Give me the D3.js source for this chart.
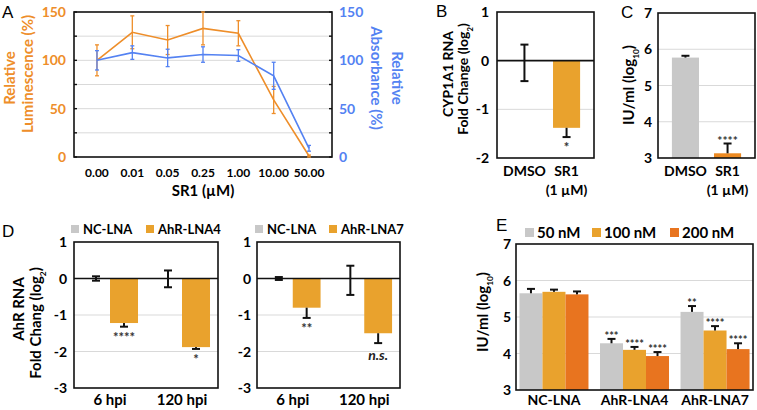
<!DOCTYPE html>
<html><head><meta charset="utf-8">
<script src="https://cdn.jsdelivr.net/npm/d3@7"></script>
<style>
body{margin:0;background:#fff;}
svg{display:block;font-family:Lato,"Open Sans",sans-serif;font-weight:700;}
</style></head><body>
<svg id="c" width="757" height="410"></svg>
<script>
// ---------- Panel A ----------
const concLabels = ["0.00","0.01","0.05","0.25","1.00","10.00","50.00"];
const lumValues = [100,129,121,133,128,59,1];
const lumErr = [16,17,15,17,13,14,1];
const absValues = [100,108,102.5,106,105,84,9];
const absErr = [10,7,9,8,6,14,3];
const aTicks = [0,50,100,150];
const aMinor = [0,25,50,75,100,125,150];

// ---------- Panel B ----------
const bCats = ["DMSO","SR1"];
const bCatsSub = ["","(1 µM)"];
const bValues = [0,-1.38];
const bErrLo = [-0.42,-1.57];
const bErrHi = [0.33,-1.38];
const bSig = ["","*"];
const bTicks = [1,0,-1,-2];

// ---------- Panel C ----------
const cCats = ["DMSO","SR1"];
const cCatsSub = ["","(1 µM)"];
const cValues = [5.77,3.13];
const cErrHi = [5.82,3.40];
const cSig = ["","****"];
const cTicks = [3,4,5,6,7];

// ---------- Panel D ----------
const dGroups = ["6 hpi","120 hpi"];
const dTicks = [1,0,-1,-2,-3];
const dNC4 = [0,0], dNC4Lo = [-0.06,-0.24], dNC4Hi = [0.06,0.22];
const dLNA4 = [-1.22,-1.88], dLNA4Lo = [-1.32,-1.93], dLNA4Sig = ["****","*"];
const dNC7 = [0,0], dNC7Lo = [-0.04,-0.45], dNC7Hi = [0.04,0.35];
const dLNA7 = [-0.80,-1.50], dLNA7Lo = [-1.08,-1.77], dLNA7Sig = ["**","n.s."];

// ---------- Panel E ----------
const eGroups = ["NC-LNA","AhR-LNA4","AhR-LNA7"];
const eSeries = ["50 nM","100 nM","200 nM"];
const e50 = [5.65,4.28,5.14], e50Hi = [5.77,4.40,5.30], e50Sig = ["","***","**"];
const e100 = [5.69,4.10,4.63], e100Hi = [5.75,4.18,4.75], e100Sig = ["","****","****"];
const e200 = [5.62,3.93,4.12], e200Hi = [5.70,4.04,4.28], e200Sig = ["","****","****"];
const eTicks = [3,4,5,6,7];

// ---------- colours ----------
const ORANGE_LINE = "#EE8E2A", BLUE = "#5482F2";
const GREY = "#C8C8C8", ORANGE = "#E9A22D", DARK = "#E8741F", C_ORANGE = "#EC8A22";
const GRID = "#d9d9d9";

const svg = d3.select("#c");

function panelLetter(t, x, y){
  svg.append("text").attr("x",x).attr("y",y).text(t)
    .style("font-family","'Liberation Sans',Arial,sans-serif").style("font-weight",400).style("font-size","17px");
}
function rotTitle(lines, rot, color, size){
  lines.forEach(l=>{
    const t = svg.append("text").attr("transform",`translate(${l.x},${l.y}) rotate(${rot})`)
      .attr("text-anchor","middle").attr("fill",color||"#000").style("font-size",(size||14)+"px");
    t.append("tspan").text(l.text);
    if(l.sub){
      t.append("tspan").attr("baseline-shift","sub").style("font-size","0.55em").text(l.sub);
      t.append("tspan").text(l.after||"");
    }
  });
}
function frame(x0,y0,x1,y1){
  svg.append("rect").attr("x",x0).attr("y",y0).attr("width",x1-x0).attr("height",y1-y0)
    .attr("fill","none").attr("stroke","#111").attr("stroke-width",1.6);
}
function gridLines(y, vals, x0, x1){
  svg.append("g").selectAll("line").data(vals).join("line")
    .attr("x1",x0).attr("x2",x1).attr("y1",d=>y(d)).attr("y2",d=>y(d))
    .attr("stroke",GRID).attr("stroke-width",1);
}
function yLabels(y, vals, x, color, anchor, size){
  svg.append("g").selectAll("text").data(vals).join("text")
    .attr("x",x).attr("y",d=>y(d)+5).attr("text-anchor",anchor||"end")
    .attr("fill",color||"#000").style("font-size",(size||14)+"px").text(d=>d);
}
function errBar(cx, y, v, lo, hi, w, color, sw){
  const g = svg.append("g").attr("stroke",color||"#111").attr("stroke-width",sw||2);
  g.append("line").attr("x1",cx).attr("x2",cx).attr("y1",y(lo)).attr("y2",y(hi));
  if(lo < v - 1e-9 || lo===hi) g.append("line").attr("x1",cx-w/2).attr("x2",cx+w/2).attr("y1",y(lo)).attr("y2",y(lo));
  if(hi > v + 1e-9) g.append("line").attr("x1",cx-w/2).attr("x2",cx+w/2).attr("y1",y(hi)).attr("y2",y(hi));
}
function sigText(cx, ybase, t, below, size){
  const el = svg.append("text").attr("x",cx).attr("text-anchor","middle").attr("fill","#333")
    .style("font-size",(size||12)+"px").text(t);
  if(t==="n.s."){ el.style("font-style","italic").attr("fill","#222").style("font-size","14px").attr("y",ybase+17); }
  else el.attr("y", below ? ybase+15 : ybase+1).style("font-weight",700);
}

// ================= Panel A =================
(function(){
  const x0=74,x1=332,y0=12,y1=157;
  const x = d3.scalePoint().domain(concLabels).range([x0,x1]).padding(0.65);
  const y = d3.scaleLinear().domain([0,150]).range([y1,y0]);
  gridLines(y,[25,50,75,100,125],x0,x1);
  svg.append("g").selectAll("line").data(aMinor).join("line")
    .attr("x1",x0).attr("x2",x0+3).attr("y1",d=>y(d)).attr("y2",d=>y(d)).attr("stroke","#111").attr("stroke-width",1.4);
  svg.append("g").selectAll("line").data(aMinor).join("line")
    .attr("x1",x1-3).attr("x2",x1).attr("y1",d=>y(d)).attr("y2",d=>y(d)).attr("stroke","#111").attr("stroke-width",1.4);
  frame(x0,y0,x1,y1);
  yLabels(y,aTicks,66,ORANGE_LINE,"end",14);
  yLabels(y,aTicks,339,BLUE,"start",14);
  svg.append("g").selectAll("text").data(concLabels).join("text")
    .attr("x",d=>x(d)).attr("y",177).attr("text-anchor","middle").style("font-size","12px").text(d=>d);
  svg.append("text").attr("x",203).attr("y",196).attr("text-anchor","middle").style("font-size","15px").text("SR1 (µM)");
  const series = [
    {v:lumValues,e:lumErr,c:ORANGE_LINE},
    {v:absValues,e:absErr,c:BLUE}
  ];
  series.forEach(s=>{
    svg.append("path").datum(concLabels.map((d,i)=>[x(d),y(s.v[i])]))
      .attr("d",d3.line()).attr("fill","none").attr("stroke",s.c).attr("stroke-width",1.6);
    concLabels.forEach((d,i)=>errBar(x(d),y,s.v[i],Math.max(0,s.v[i]-s.e[i]),s.v[i]+s.e[i],4,s.c,1.3));
  });
  rotTitle([{text:"Relative",x:15,y:78},{text:"Luminescence (%)",x:33,y:74}],-90,ORANGE_LINE,15);
  rotTitle([{text:"Relative",x:392,y:78},{text:"Absorbance (%)",x:371,y:78}],90,BLUE,15);
  panelLetter("A",2,18);
})();

// ================= Panel B =================
(function(){
  const x0=497,x1=594,y0=12,y1=158;
  const x = d3.scaleBand().domain(bCats).range([x0,x1]).paddingInner(0.357).paddingOuter(0.33);
  const y = d3.scaleLinear().domain([-2,1]).range([y1,y0]);
  gridLines(y,[-1],x0,x1);
  svg.append("g").selectAll("rect").data(bCats).join("rect")
    .attr("x",d=>x(d)).attr("width",x.bandwidth())
    .attr("y",(d,i)=>y(Math.max(0,bValues[i]))).attr("height",(d,i)=>Math.abs(y(bValues[i])-y(0)))
    .attr("fill",(d,i)=>i===0?GREY:ORANGE);
  svg.append("line").attr("x1",x0).attr("x2",x1).attr("y1",y(0)).attr("y2",y(0)).attr("stroke","#111").attr("stroke-width",1.6);
  bCats.forEach((d,i)=>{
    const cx = x(d)+x.bandwidth()/2;
    errBar(cx,y,bValues[i],bErrLo[i],bErrHi[i],8,"#111",2);
    if(bSig[i]) sigText(cx,y(bErrLo[i]),bSig[i],true,13);
    svg.append("text").attr("x",cx).attr("y",176).attr("text-anchor","middle").style("font-size","14px").text(d);
    if(bCatsSub[i]) svg.append("text").attr("x",cx).attr("y",195).attr("text-anchor","middle").style("font-size","14px").text(bCatsSub[i]);
  });
  frame(x0,y0,x1,y1);
  yLabels(y,bTicks,489,"#000","end",14);
  rotTitle([{text:"CYP1A1 RNA",x:453,y:74},{text:"Fold Change (log",sub:"2",after:")",x:468,y:79}],-90,"#000",14);
  panelLetter("B",436,17);
})();

// ================= Panel C =================
(function(){
  const x0=658,x1=755,y0=13,y1=158;
  const x = d3.scaleBand().domain(cCats).range([x0,x1]).paddingInner(0.357).paddingOuter(0.33);
  const y = d3.scaleLinear().domain([3,7]).range([y1,y0]);
  gridLines(y,[4,5,6],x0,x1);
  svg.append("g").selectAll("rect").data(cCats).join("rect")
    .attr("x",d=>x(d)).attr("width",x.bandwidth())
    .attr("y",(d,i)=>y(cValues[i])).attr("height",(d,i)=>y(3)-y(cValues[i]))
    .attr("fill",(d,i)=>i===0?GREY:C_ORANGE);
  cCats.forEach((d,i)=>{
    const cx = x(d)+x.bandwidth()/2;
    errBar(cx,y,cValues[i],cValues[i],cErrHi[i],8,"#111",2);
    if(cSig[i]) sigText(cx,y(cErrHi[i]),cSig[i],false,12);
    svg.append("text").attr("x",cx).attr("y",176).attr("text-anchor","middle").style("font-size","14px").text(d);
    if(cCatsSub[i]) svg.append("text").attr("x",cx).attr("y",195).attr("text-anchor","middle").style("font-size","14px").text(cCatsSub[i]);
  });
  frame(x0,y0,x1,y1);
  yLabels(y,cTicks,652,"#000","end",14);
  rotTitle([{text:"IU/ml (log",sub:"10",after:")",x:634,y:85}],-90,"#000",15);
  panelLetter("C",621,18);
})();

// ================= Panel D =================
function panelD(x0,x1,labelX,ncV,ncLo,ncHi,lV,lLo,lSig,seriesName,legX){
  const y0=242,y1=388;
  const x = d3.scaleBand().domain(dGroups).range([x0,x1]).paddingInner(0.222).paddingOuter(0.111);
  const sub = d3.scaleBand().domain(["NC-LNA",seriesName]).range([0,x.bandwidth()]);
  const y = d3.scaleLinear().domain([-3,1]).range([y1,y0]);
  gridLines(y,[-1,-2],x0,x1);
  dGroups.forEach((g,i)=>{
    svg.append("rect").attr("x",x(g)+sub(seriesName)).attr("width",sub.bandwidth())
      .attr("y",y(0)).attr("height",y(lV[i])-y(0)).attr("fill",ORANGE);
    svg.append("rect").attr("x",x(g)+sub("NC-LNA")).attr("width",sub.bandwidth())
      .attr("y",y(0)).attr("height",Math.abs(y(ncV[i])-y(0))).attr("fill",GREY);
  });
  svg.append("line").attr("x1",x0).attr("x2",x1).attr("y1",y(0)).attr("y2",y(0)).attr("stroke","#111").attr("stroke-width",1.6);
  dGroups.forEach((g,i)=>{
    const ncx = x(g)+sub("NC-LNA")+sub.bandwidth()/2;
    const lcx = x(g)+sub(seriesName)+sub.bandwidth()/2;
    errBar(ncx,y,ncV[i],ncLo[i],ncHi[i],8,"#111",2);
    errBar(lcx,y,lV[i],lLo[i],lV[i],8,"#111",2);
    sigText(lcx,y(lLo[i]),lSig[i],true,13);
    svg.append("text").attr("x",x(g)+x.bandwidth()/2).attr("y",405).attr("text-anchor","middle").style("font-size","15px").text(g);
  });
  frame(x0,y0,x1,y1);
  yLabels(y,dTicks,labelX,"#000","end",14);
  const items = [{n:"NC-LNA",c:GREY,x:legX[0]},{n:seriesName,c:ORANGE,x:legX[1]}];
  items.forEach(it=>{
    svg.append("rect").attr("x",it.x).attr("y",225).attr("width",8).attr("height",8).attr("fill",it.c);
    svg.append("text").attr("x",it.x+12).attr("y",234).style("font-size","13px").text(it.n);
  });
}
panelD(74,218,67,dNC4,dNC4Lo,dNC4Hi,dLNA4,dLNA4Lo,dLNA4Sig,"AhR-LNA4",[71,146]);
panelD(257,400,251,dNC7,dNC7Lo,dNC7Hi,dLNA7,dLNA7Lo,dLNA7Sig,"AhR-LNA7",[255,329]);
rotTitle([{text:"AhR RNA",x:24,y:309},{text:"Fold Chang (log",sub:"2",after:")",x:41,y:323}],-90,"#000",15);
panelLetter("D",2,237);

// ================= Panel E =================
(function(){
  const x0=516,x1=753,y0=244,y1=390;
  const x = d3.scaleBand().domain(eGroups).range([x0,x1]).paddingInner(0.143).paddingOuter(0.043);
  const sub = d3.scaleBand().domain(eSeries).range([0,x.bandwidth()]);
  const y = d3.scaleLinear().domain([3,7]).range([y1,y0]);
  gridLines(y,[4,5,6],x0,x1);
  const series = [
    {n:"50 nM",v:e50,h:e50Hi,s:e50Sig,c:GREY},
    {n:"100 nM",v:e100,h:e100Hi,s:e100Sig,c:ORANGE},
    {n:"200 nM",v:e200,h:e200Hi,s:e200Sig,c:DARK}
  ];
  series.forEach(se=>{
    eGroups.forEach((g,i)=>{
      svg.append("rect").attr("x",x(g)+sub(se.n)).attr("width",sub.bandwidth())
        .attr("y",y(se.v[i])).attr("height",y(3)-y(se.v[i])).attr("fill",se.c);
    });
  });
  series.forEach(se=>{
    eGroups.forEach((g,i)=>{
      const cx = x(g)+sub(se.n)+sub.bandwidth()/2;
      errBar(cx,y,se.v[i],se.v[i],se.h[i],8,"#111",2);
      if(se.s[i]) sigText(cx,y(se.h[i]),se.s[i],false,11);
    });
  });
  eGroups.forEach(g=>{
    svg.append("text").attr("x",x(g)+x.bandwidth()/2).attr("y",405).attr("text-anchor","middle").style("font-size","14px").text(g);
  });
  frame(x0,y0,x1,y1);
  yLabels(y,eTicks,511,"#000","end",14);
  const legX = [525,592,670];
  series.forEach((se,i)=>{
    svg.append("rect").attr("x",legX[i]).attr("y",228).attr("width",9).attr("height",9).attr("fill",se.c);
    svg.append("text").attr("x",legX[i]+12).attr("y",238).style("font-size","15px").text(se.n);
  });
  rotTitle([{text:"IU/ml (log",sub:"10",after:")",x:488,y:312}],-90,"#000",15);
  panelLetter("E",496,231);
})();
</script>
</body></html>
